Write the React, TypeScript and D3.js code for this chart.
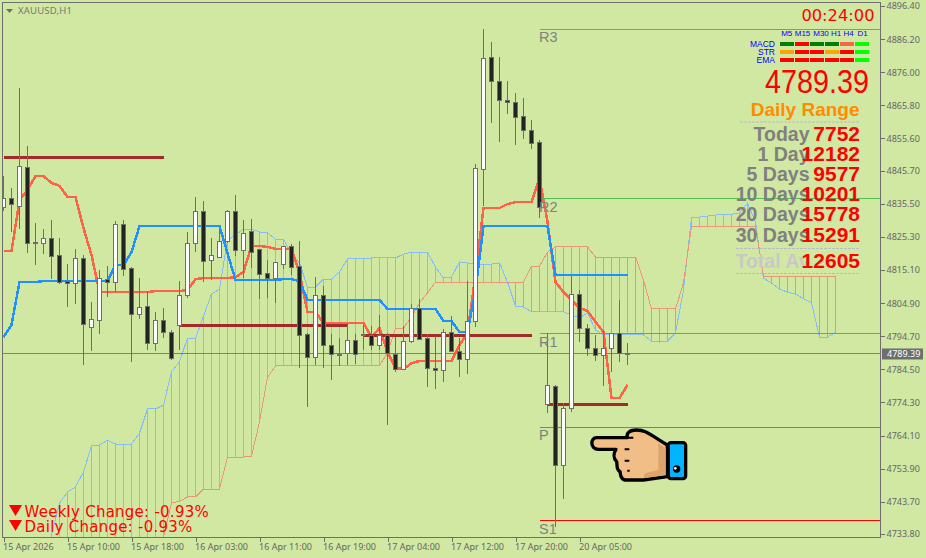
import { useEffect, useRef } from "react";
import * as d3 from "d3";

const width = 926;
const height = 558;

// H1 candles, one entry per bar
const opens = [
  4834.5, 4837.0, 4834.8, 4846.8, 4823.7, 4823.4, 4824.9, 4819.7, 4811.7, 4810.8,
  4818.5, 4797.5, 4799.7, 4812.3, 4811.4, 4829.0, 4815.7, 4801.5, 4804.0, 4792.6,
  4799.7, 4796.0, 4797.9, 4807.1, 4823.4, 4833.0, 4817.9, 4819.1, 4824.0, 4833.0,
  4821.0, 4827.1, 4821.3, 4813.9, 4812.6, 4816.9, 4822.2, 4816.3, 4795.1, 4788.3,
  4807.1, 4792.0, 4789.2, 4789.5, 4793.5, 4795.1, 4794.8, 4791.7, 4794.8, 4789.2,
  4784.6, 4793.2, 4803.1, 4794.1, 4784.9, 4784.3, 4795.7, 4790.1, 4787.4, 4799.1,
  4846.2, 4880.4, 4873.3, 4867.4, 4866.8, 4862.5, 4858.2, 4854.5, 4773.8, 4779.1,
  4755.0, 4772.3, 4807.7, 4797.2, 4790.8, 4788.9, 4790.8, 4795.4, 4789.4,
];
const highs = [
  4844.0, 4840.3, 4871.1, 4853.3, 4829.6, 4827.7, 4830.5, 4824.9, 4816.9, 4821.6,
  4819.7, 4805.2, 4815.1, 4816.3, 4830.2, 4830.5, 4816.0, 4812.6, 4808.6, 4802.2,
  4803.4, 4796.6, 4811.7, 4826.8, 4837.6, 4836.4, 4824.9, 4827.4, 4833.6, 4838.2,
  4830.5, 4830.8, 4821.6, 4818.2, 4817.3, 4822.2, 4823.1, 4824.0, 4795.7, 4812.9,
  4810.2, 4795.4, 4794.1, 4798.2, 4795.4, 4798.2, 4797.9, 4801.2, 4795.7, 4794.4,
  4797.9, 4804.6, 4806.2, 4795.4, 4794.8, 4796.9, 4800.9, 4794.1, 4811.7, 4847.7,
  4889.3, 4885.3, 4880.7, 4873.3, 4869.6, 4868.1, 4861.3, 4855.1, 4795.7, 4779.7,
  4774.1, 4813.2, 4809.0, 4798.5, 4795.1, 4796.6, 4795.4, 4805.9, 4792.6,
];
const lows = [
  4833.3, 4826.8, 4827.7, 4820.3, 4816.6, 4820.0, 4812.3, 4810.8, 4803.7, 4804.6,
  4785.8, 4790.1, 4795.4, 4806.8, 4808.3, 4813.2, 4786.8, 4800.0, 4790.4, 4790.1,
  4794.1, 4787.4, 4790.4, 4806.5, 4820.6, 4811.4, 4812.0, 4818.8, 4823.4, 4819.4,
  4812.6, 4815.7, 4806.2, 4806.5, 4805.0, 4815.4, 4813.6, 4784.9, 4772.9, 4785.8,
  4784.9, 4781.2, 4785.5, 4785.8, 4786.1, 4790.4, 4790.4, 4790.4, 4767.3, 4783.7,
  4784.3, 4792.6, 4793.5, 4779.1, 4778.5, 4780.6, 4789.8, 4782.1, 4783.1, 4797.5,
  4834.8, 4860.4, 4854.5, 4863.1, 4853.6, 4855.4, 4852.3, 4831.1, 4771.0, 4735.9,
  4744.6, 4771.3, 4792.9, 4788.6, 4787.1, 4779.4, 4783.7, 4786.8, 4785.8,
];
const closes = [
  4837.0, 4835.4, 4847.1, 4823.4, 4823.4, 4824.9, 4819.4, 4811.4, 4810.8, 4818.5,
  4798.2, 4800.0, 4812.6, 4811.4, 4829.0, 4815.4, 4801.5, 4803.7, 4792.6, 4799.7,
  4795.7, 4788.0, 4807.4, 4823.4, 4833.0, 4817.6, 4819.7, 4824.0, 4833.0, 4821.0,
  4826.2, 4820.6, 4813.6, 4812.6, 4817.3, 4822.2, 4816.0, 4794.8, 4788.3, 4807.1,
  4792.0, 4789.2, 4789.1, 4793.5, 4789.2, 4795.0, 4791.7, 4794.8, 4789.5, 4784.6,
  4793.2, 4803.1, 4793.8, 4784.9, 4784.3, 4796.0, 4790.1, 4787.4, 4799.1, 4846.5,
  4880.1, 4873.0, 4867.4, 4866.8, 4862.2, 4858.2, 4854.2, 4834.2, 4779.4, 4755.0,
  4772.6, 4807.7, 4797.2, 4790.8, 4788.9, 4790.8, 4795.4, 4789.5, 4789.39,
];

// Ichimoku
const tenkan = [
  4820.9, 4820.9, 4836.6, 4839.8, 4844.0, 4844.0, 4841.9, 4841.0, 4837.6, 4837.6,
  4828.0, 4819.7, 4808.3, 4808.3, 4808.3, 4808.3, 4808.3, 4808.3, 4808.3, 4808.6,
  4808.6, 4808.6, 4808.6, 4808.9, 4812.3, 4812.6, 4812.6, 4812.6, 4812.6, 4812.9,
  4814.5, 4822.5, 4822.5, 4822.2, 4821.6, 4821.6, 4821.6, 4814.2, 4802.2, 4802.2,
  4798.8, 4798.8, 4798.8, 4798.8, 4798.8, 4798.8, 4794.4, 4797.2, 4789.8, 4784.9,
  4784.6, 4786.4, 4787.1, 4787.1, 4787.1, 4787.1, 4787.1, 4792.0, 4795.7, 4813.6,
  4834.2, 4834.2, 4834.2, 4835.4, 4836.0, 4836.0, 4836.0, 4843.4, 4829.9, 4811.4,
  4808.3, 4805.9, 4803.4, 4802.5, 4799.1, 4796.0, 4775.7, 4775.7, 4779.7,
];
const kijun = [
  4794.4, 4798.2, 4811.4, 4811.4, 4811.4, 4811.7, 4811.7, 4811.7, 4811.7, 4811.7,
  4811.7, 4811.7, 4811.7, 4811.7, 4816.6, 4816.6, 4820.6, 4828.6, 4828.6, 4828.6,
  4828.6, 4828.6, 4828.6, 4828.6, 4828.6, 4828.6, 4828.6, 4828.6, 4820.3, 4812.0,
  4812.0, 4812.0, 4812.0, 4812.0, 4812.0, 4812.3, 4812.3, 4811.7, 4805.9, 4805.9,
  4805.9, 4805.9, 4805.9, 4805.9, 4805.9, 4805.9, 4805.9, 4805.9, 4803.1, 4803.1,
  4803.1, 4803.1, 4803.1, 4803.1, 4803.1, 4799.4, 4799.4, 4796.0, 4796.0, 4808.9,
  4828.6, 4828.6, 4828.6, 4828.6, 4828.6, 4828.6, 4828.6, 4828.6, 4828.6, 4813.6,
  4813.6, 4813.6, 4813.6, 4813.6, 4813.6, 4813.6, 4813.6, 4813.6, 4813.6,
];
// the cloud starts on this bar and runs 26 bars past the last candle
const spanStart = 6;
const senkouA = [
  4733.5, 4743.3, 4746.7, 4748.3, 4752.9, 4760.9, 4761.2, 4762.7, 4761.5, 4761.5,
  4761.5, 4764.9, 4772.3, 4772.3, 4773.5, 4783.7, 4786.8, 4794.1, 4794.1, 4800.9,
  4807.7, 4809.2, 4824.3, 4825.9, 4827.7, 4827.7, 4826.8, 4826.5, 4824.6, 4824.6,
  4820.0, 4817.3, 4809.8, 4809.8, 4812.3, 4812.3, 4814.5, 4818.5, 4818.5, 4818.5,
  4818.8, 4818.8, 4818.8, 4818.8, 4820.0, 4820.6, 4820.6, 4820.6, 4816.0, 4812.6,
  4812.9, 4817.6, 4817.3, 4816.9, 4816.9, 4816.9, 4817.3, 4811.4, 4804.0, 4803.7,
  4802.2, 4802.2, 4802.2, 4802.2, 4802.2, 4801.2, 4800.3, 4801.9, 4796.6, 4795.1,
  4795.1, 4795.1, 4795.1, 4795.1, 4795.1, 4793.2, 4792.9, 4793.2, 4795.7, 4808.9,
  4831.4, 4831.4, 4831.7, 4832.0, 4832.3, 4832.3, 4832.6, 4835.7, 4829.9, 4812.6,
  4811.1, 4809.2, 4808.3, 4807.7, 4806.2, 4805.0, 4794.4, 4794.4, 4796.0,
];
const senkouB = [
  4716, 4717, 4718, 4719, 4719, 4720, 4720, 4721, 4722, 4723,
  4724, 4725, 4726, 4728, 4732.9, 4743.3, 4743.9, 4745.2, 4745.2, 4747.6,
  4747.6, 4747.6, 4757.5, 4757.5, 4757.5, 4757.8, 4768.3, 4782.1, 4785.5, 4785.8,
  4785.8, 4785.8, 4785.8, 4785.8, 4785.8, 4785.8, 4785.8, 4785.8, 4785.8, 4785.8,
  4785.8, 4785.8, 4789.5, 4797.2, 4797.2, 4800.6, 4805.0, 4808.0, 4811.4, 4811.4,
  4811.4, 4811.4, 4811.4, 4811.4, 4811.4, 4811.4, 4811.4, 4811.4, 4811.4, 4811.4,
  4816.3, 4816.3, 4820.6, 4822.2, 4822.2, 4822.2, 4822.2, 4822.2, 4819.1, 4819.1,
  4819.1, 4819.1, 4819.1, 4819.1, 4812.0, 4803.1, 4803.1, 4803.1, 4803.1, 4811.1,
  4828.6, 4828.6, 4828.6, 4828.6, 4828.6, 4828.6, 4828.6, 4828.6, 4828.6, 4813.2,
  4813.2, 4813.2, 4813.2, 4813.2, 4813.2, 4813.2, 4813.2, 4813.2, 4813.2,
];

// daily level segments: first bar, last bar, price
const levelStarts = [0, 22, 45, 68];
const levelEnds = [20, 43, 66, 78];
const levelPrices = [4849.7, 4798.0, 4794.9, 4773.7];

// pivots
const pivotNames = ["R3", "R2", "R1", "P", "S1"];
const pivotPrices = [4889.3, 4837.0, 4795.5, 4766.6, 4737.95];
const pivotColors = ["#50bb62", "#50c050", "#20dc20", "#808080", "#ff0000"];
const pivotBar = 67;

const lastPrice = 4789.39;

const priceTicks = [
  4896.4, 4886.2, 4876.0, 4865.8, 4855.6, 4845.7, 4835.5, 4825.3, 4815.1, 4804.9,
  4794.7, 4784.5, 4774.3, 4764.1, 4753.9, 4743.7, 4733.8,
];
const timeBars = [0, 8, 16, 24, 32, 40, 48, 56, 64, 72];
const timeLabels = [
  "15 Apr 2026", "15 Apr 10:00", "15 Apr 18:00", "16 Apr 03:00", "16 Apr 11:00",
  "16 Apr 19:00", "17 Apr 04:00", "17 Apr 12:00", "17 Apr 20:00", "20 Apr 05:00",
];

// panel texts
const timeframes = ["M5", "M15", "M30", "H1", "H4", "D1"];
const signalNames = ["MACD", "STR", "EMA"];
const signalColors = [
  ["#008000", "#ff0000", "#008000", "#008000", "#ff6347", "#00ff00"],
  ["#ffa500", "#ff0000", "#ff0000", "#ffa500", "#ff0000", "#00ff00"],
  ["#ff0000", "#ff0000", "#ff0000", "#ff0000", "#ff0000", "#00ff00"],
];
const rangeNames = ["Today", "1 Day", "5 Days", "10 Days", "20 Days", "30 Days", "Total Av"];
const rangeValues = [7752, 12182, 9577, 10201, 15778, 15291, 12605];

const sans = "'Liberation Sans', Arial, sans-serif";
const axisFont = "'Noto Sans', sans-serif";
const grey = "#6e6e6e";

function App() {
  const node = useRef<SVGSVGElement>(null);

  useEffect(() => {
    const svg = d3.select(node.current);
    svg.selectAll("*").remove();

    const y = d3.scaleLinear().domain([4896.4, 4733.8]).range([6, 534]);
    const x = d3.scaleLinear().domain([0, 104]).range([3.5, 835.5]);

    svg.append("rect").attr("width", width).attr("height", height).attr("fill", "#d1e8a2");

    svg
      .append("clipPath")
      .attr("id", "plot")
      .append("rect")
      .attr("x", 3)
      .attr("y", 3)
      .attr("width", 877)
      .attr("height", 534);

    const plot = svg.append("g").attr("clip-path", "url(#plot)").attr("shape-rendering", "crispEdges");

    // cloud hatching
    plot
      .selectAll(".hatch")
      .data(senkouA)
      .enter()
      .append("line")
      .attr("x1", (d, i) => x(i + spanStart))
      .attr("x2", (d, i) => x(i + spanStart))
      .attr("y1", (d) => y(d))
      .attr("y2", (d, i) => y(senkouB[i]))
      .attr("stroke", (d, i) => (d >= senkouB[i] ? "#87bdf5" : "#e9967a"))
      .attr("stroke-width", 1);

    const spanLine = d3
      .line<number>()
      .x((d, i) => x(i + spanStart))
      .y((d) => y(d));
    plot.append("path").attr("d", spanLine(senkouA)).attr("fill", "none").attr("stroke", "#87bdf5");
    plot.append("path").attr("d", spanLine(senkouB)).attr("fill", "none").attr("stroke", "#e9967a");

    const barLine = d3
      .line<number>()
      .x((d, i) => x(i))
      .y((d) => y(d));
    plot
      .append("path")
      .attr("d", barLine(tenkan))
      .attr("fill", "none")
      .attr("stroke", "#ff6347")
      .attr("stroke-width", 2.5);
    plot
      .append("path")
      .attr("d", barLine(kijun))
      .attr("fill", "none")
      .attr("stroke", "#1e90ff")
      .attr("stroke-width", 2.5);

    // daily levels
    plot
      .selectAll(".level")
      .data(levelPrices)
      .enter()
      .append("line")
      .attr("x1", (d, i) => x(levelStarts[i]))
      .attr("x2", (d, i) => x(levelEnds[i]))
      .attr("y1", (d) => y(d))
      .attr("y2", (d) => y(d))
      .attr("stroke", "#a52a2a")
      .attr("stroke-width", 3);

    // pivots
    pivotPrices.forEach((p, i) => {
      plot
        .append("line")
        .attr("x1", x(pivotBar))
        .attr("x2", 880)
        .attr("y1", y(p))
        .attr("y2", y(p))
        .attr("stroke", pivotColors[i]);
      svg
        .append("text")
        .attr("x", x(pivotBar) - 0.5)
        .attr("y", y(p) + 13)
        .attr("font-family", sans)
        .attr("font-size", 14.5)
        .attr("fill", "#808080")
        .text(pivotNames[i]);
    });

    // current price line
    plot
      .append("line")
      .attr("x1", 3)
      .attr("x2", 880)
      .attr("y1", y(lastPrice))
      .attr("y2", y(lastPrice))
      .attr("stroke", "#808080");

    // candles sit on top of the indicators
    const candles = plot.selectAll(".candle").data(opens).enter().append("g");
    candles
      .append("line")
      .attr("x1", (d, i) => x(i))
      .attr("x2", (d, i) => x(i))
      .attr("y1", (d, i) => y(highs[i]))
      .attr("y2", (d, i) => y(lows[i]))
      .attr("stroke", grey);
    candles
      .append("rect")
      .attr("x", (d, i) => x(i) - 2)
      .attr("width", 4)
      .attr("y", (d, i) => y(Math.max(d, closes[i])))
      .attr("height", (d, i) => Math.max(1, Math.abs(y(d) - y(closes[i]))))
      .attr("fill", (d, i) => (closes[i] >= d ? "#ffffff" : "#222222"))
      .attr("stroke", grey);

    // frame
    svg
      .append("rect")
      .attr("x", 2.5)
      .attr("y", 2.5)
      .attr("width", 878)
      .attr("height", 535)
      .attr("fill", "none")
      .attr("stroke", grey)
      .attr("shape-rendering", "crispEdges");

    // axes
    const yAxis = svg
      .append("g")
      .attr("transform", "translate(880.5,0)")
      .call(d3.axisRight(y).tickValues(priceTicks).tickFormat(d3.format(".2f")).tickSize(4).tickPadding(2));
    yAxis.select(".domain").remove();
    yAxis.selectAll("line").attr("stroke", grey).attr("shape-rendering", "crispEdges");
    yAxis.selectAll("text").attr("fill", "#666").attr("font-family", axisFont).attr("font-size", 9);

    const xAxis = svg
      .append("g")
      .attr("transform", "translate(0,537.5)")
      .call(
        d3
          .axisBottom(x)
          .tickValues(timeBars)
          .tickFormat((d, i) => timeLabels[i])
          .tickSize(4)
          .tickPadding(2)
      );
    xAxis.select(".domain").remove();
    xAxis.selectAll("line").attr("stroke", grey).attr("shape-rendering", "crispEdges");
    xAxis
      .selectAll("text")
      .attr("fill", "#666")
      .attr("font-family", axisFont)
      .attr("font-size", 9)
      .attr("dx", -1)
      .attr("text-anchor", "start");

    // last price tag
    svg
      .append("rect")
      .attr("x", 882)
      .attr("y", y(lastPrice) - 5)
      .attr("width", 41)
      .attr("height", 11)
      .attr("fill", grey);
    svg
      .append("text")
      .attr("x", 887)
      .attr("y", y(lastPrice) + 3.5)
      .attr("fill", "#fff")
      .attr("font-family", axisFont)
      .attr("font-size", 9)
      .text(d3.format(".2f")(lastPrice));

    // title
    svg.append("path").attr("d", "M6 9L13 9L9.5 13Z").attr("fill", grey);
    svg
      .append("text")
      .attr("x", 18)
      .attr("y", 14)
      .attr("fill", "#777")
      .attr("font-family", axisFont)
      .attr("font-size", 9.5)
      .attr("letter-spacing", 0.2)
      .text("XAUUSD,H1");

    // countdown and signal table
    svg
      .append("text")
      .attr("x", 874.5)
      .attr("y", 20.5)
      .attr("text-anchor", "end")
      .attr("fill", "#ff0000")
      .attr("font-family", "'DejaVu Sans', sans-serif")
      .attr("font-size", 16.3)
      .text("00:24:00");

    const cellX = d3.scaleBand().domain(d3.range(6).map(String)).range([780, 870]);
    const labelX = [786.7, 802.5, 821, 836, 848.5, 862.5];
    timeframes.forEach((t, i) => {
      svg
        .append("text")
        .attr("x", labelX[i])
        .attr("y", 36)
        .attr("text-anchor", "middle")
        .attr("fill", "#0000ff")
        .attr("font-family", sans)
        .attr("font-size", 8)
        .text(t);
    });
    signalNames.forEach((name, r) => {
      svg
        .append("text")
        .attr("x", 775)
        .attr("y", 46.5 + r * 8)
        .attr("text-anchor", "end")
        .attr("fill", "#0000ff")
        .attr("font-family", sans)
        .attr("font-size", 8.5)
        .text(name);
      signalColors[r].forEach((c, i) => {
        svg
          .append("rect")
          .attr("x", cellX(String(i))!)
          .attr("y", 42 + r * 8)
          .attr("width", 14)
          .attr("height", 4)
          .attr("fill", c);
      });
    });

    // big price
    svg
      .append("text")
      .attr("x", 765)
      .attr("y", 92.5)
      .attr("fill", "#ff0000")
      .attr("font-family", sans)
      .attr("font-size", 33)
      .attr("textLength", 104)
      .attr("lengthAdjust", "spacingAndGlyphs")
      .text(d3.format(".2f")(lastPrice));

    svg
      .append("text")
      .attr("x", 859.5)
      .attr("y", 116)
      .attr("text-anchor", "end")
      .attr("fill", "#ff8c00")
      .attr("font-family", sans)
      .attr("font-weight", "bold")
      .attr("font-size", 19)
      .text("Daily Range");

    // dashed separators
    [[740, 122], [736, 248.5], [736, 273.5]].forEach(([sx, sy]) => {
      svg
        .append("line")
        .attr("x1", sx)
        .attr("x2", 860)
        .attr("y1", sy)
        .attr("y2", sy)
        .attr("stroke", "#bdbdbd")
        .attr("stroke-dasharray", "3 1");
    });

    const rowY = d3.scalePoint().domain(d3.range(6).map(String)).range([141, 241.5]);
    rangeNames.forEach((name, i) => {
      const base = i < 6 ? rowY(String(i))! : 268;
      svg
        .append("text")
        .attr("x", 809.5)
        .attr("y", base)
        .attr("text-anchor", "end")
        .attr("fill", i < 6 ? "#808080" : "#c8c8c8")
        .attr("font-family", sans)
        .attr("font-weight", "bold")
        .attr("font-size", 19.5)
        .text(name);
    });
    rangeValues.forEach((v, i) => {
      const base = i < 6 ? rowY(String(i))! : 268;
      svg
        .append("text")
        .attr("x", 860)
        .attr("y", base)
        .attr("text-anchor", "end")
        .attr("fill", "#ff0000")
        .attr("font-family", sans)
        .attr("font-weight", "bold")
        .attr("font-size", 21)
        .text(v);
    });

    // pointing hand
    const hand = svg.append("g").attr("transform", "translate(530,280) scale(0.3333)");
    hand
      .append("path")
      .attr(
        "d",
        "M200 473L292 473C288 458 300 450 320 450C345 450 352 458 412 495L412 590L340 600L285 600C270 598 272 582 270 575C258 570 262 552 260 545C250 535 250 520 258 508L205 508C180 508 180 473 200 473Z"
      )
      .attr("fill", "#f0be86")
      .attr("stroke", "#000")
      .attr("stroke-width", 10)
      .attr("stroke-linejoin", "round");
    hand.append("path").attr("d", "M385 490L407 505L407 585L340 595L345 580L385 570Z").attr("fill", "#dda56a");
    hand.append("path").attr("d", "M292 473L310 473M284 508L298 508M284 542L298 542M292 572L299 572").attr("stroke", "#000").attr("stroke-width", 6);
    hand
      .append("rect")
      .attr("x", 415)
      .attr("y", 488)
      .attr("width", 52)
      .attr("height", 108)
      .attr("rx", 8)
      .attr("fill", "#00b4ff")
      .attr("stroke", "#000")
      .attr("stroke-width", 10);
    hand.append("circle").attr("cx", 440).attr("cy", 567).attr("r", 11).attr("fill", "#000");
    hand.append("circle").attr("cx", 436).attr("cy", 565).attr("r", 4).attr("fill", "#fff");

    // weekly / daily change
    const changeLabels = ["Weekly Change: -0.93%", "Daily Change: -0.93%"];
    changeLabels.forEach((t, i) => {
      const top = 505 + i * 15;
      svg
        .append("path")
        .attr("d", `M9 ${top}L22 ${top}L15.5 ${top + 11}Z`)
        .attr("fill", "#ff0000");
      svg
        .append("text")
        .attr("x", 24.5)
        .attr("y", top + 11.5)
        .attr("fill", "#ff0000")
        .attr("font-family", "'DejaVu Sans', sans-serif")
        .attr("font-size", 15)
        .attr("letter-spacing", 0.25)
        .text(t);
    });
  }, []);

  return <svg ref={node} width={width} height={height} style={{ position: "absolute", left: 0, top: 0 }} />;
}

export default App;
